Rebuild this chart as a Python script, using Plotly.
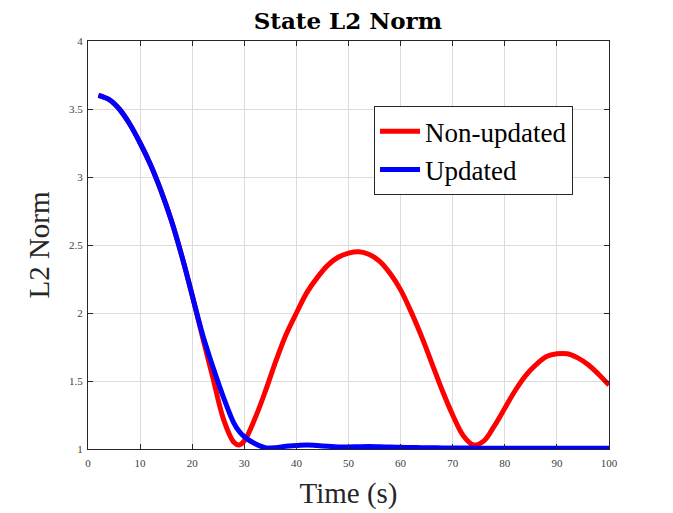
import plotly.graph_objects as go

# sampled time points (s)
time_s = [2, 4, 6, 8, 10, 12, 14, 16, 18, 20, 22, 24, 26, 28, 29, 30, 32, 34, 36, 38,
          40, 42, 44, 46, 48, 50, 52, 54, 56, 58, 60, 62, 64, 66, 68, 70, 72, 74, 76,
          78, 80, 82, 84, 86, 88, 90, 92, 94, 96, 98, 100]

non_updated = [3.60, 3.57, 3.50, 3.39, 3.25, 3.09, 2.90, 2.68, 2.42, 2.13, 1.82, 1.52,
               1.22, 1.05, 1.03, 1.06, 1.22, 1.42, 1.64, 1.84, 2.00, 2.15, 2.26, 2.35,
               2.41, 2.44, 2.45, 2.43, 2.38, 2.29, 2.17, 2.01, 1.83, 1.63, 1.43, 1.25,
               1.10, 1.03, 1.06, 1.17, 1.30, 1.43, 1.54, 1.62, 1.68, 1.70, 1.70, 1.67,
               1.62, 1.55, 1.47]

updated = [3.60, 3.57, 3.50, 3.39, 3.25, 3.09, 2.90, 2.68, 2.42, 2.13, 1.84, 1.60,
           1.38, 1.19, 1.13, 1.09, 1.04, 1.01, 1.01, 1.02, 1.025, 1.03, 1.025, 1.02,
           1.015, 1.015, 1.017, 1.018, 1.016, 1.014, 1.012, 1.011, 1.010, 1.009, 1.008,
           1.008, 1.007, 1.006, 1.006, 1.005, 1.005, 1.005, 1.005, 1.005, 1.005, 1.005,
           1.005, 1.005, 1.005, 1.005, 1.005]

serif = "Liberation Serif"

fig = go.Figure()
fig.add_trace(go.Scatter(x=time_s, y=non_updated, mode="lines", name="Non-updated",
                         line=dict(color="#ff0000", width=5, shape="spline", smoothing=1.0)))
fig.add_trace(go.Scatter(x=time_s, y=updated, mode="lines", name="Updated",
                         line=dict(color="#0000ff", width=5, shape="spline", smoothing=1.0)))

axis_common = dict(
    showline=True, linecolor="#262626", linewidth=1, mirror="ticks",
    ticks="inside", ticklen=5, tickcolor="#262626",
    showgrid=True, gridcolor="#dcdcdc", gridwidth=1, zeroline=False,
    tickfont=dict(family=serif, size=11, color="#404040"),
)

fig.update_layout(
    width=673, height=513,
    paper_bgcolor="white", plot_bgcolor="white",
    margin=dict(l=80, r=72, t=33, b=72),
    title=dict(text="<b>State L2 Norm</b>", x=0.505, xanchor="center", y=0.975, yanchor="middle",
               font=dict(family="DejaVu Serif", size=23, color="black")),
    xaxis=dict(axis_common, range=[0, 100], dtick=10, ticklabelstandoff=4,
               title=dict(text="Time (s)", font=dict(family=serif, size=29, color="#262626"), standoff=14)),
    yaxis=dict(axis_common, range=[1, 4], dtick=0.5, ticklabelstandoff=2,
               title=dict(text="L2 Norm", font=dict(family=serif, size=29, color="#262626"), standoff=10)),
    legend=dict(x=0.549, y=0.84, xanchor="left", yanchor="top",
                bgcolor="white", bordercolor="#262626", borderwidth=1,
                font=dict(family=serif, size=27, color="black"),
                itemwidth=40, tracegroupgap=0),
    showlegend=True,
)

fig.write_html("out.html")
